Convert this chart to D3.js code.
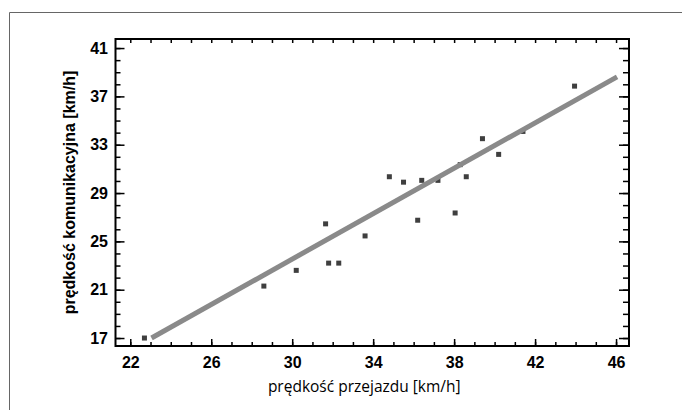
<!DOCTYPE html>
<html>
<head>
<meta charset="utf-8">
<script src="https://cdn.jsdelivr.net/npm/d3@7"></script>
<style>
    body { margin: 0; background: #fff; }
    svg { display: block; }
</style>
</head>
<body>
<div id="chart"></div>
<script>
// data
const speedRide = [22.7, 28.6, 30.2, 31.65, 31.8, 32.3, 33.6, 34.8, 35.5, 36.2, 36.4, 37.2, 38.05, 38.3, 38.6, 39.4, 40.2, 41.4, 43.95];
const speedComm = [17.0, 21.3, 22.6, 26.45, 23.2, 23.2, 25.45, 30.35, 29.9, 26.75, 30.05, 30.05, 27.35, 31.35, 30.35, 33.5, 32.2, 34.1, 37.85];

// fitted line end points
const fitX = [23.05, 46.05];
const fitY = [17.0, 38.62];

const xMajor = [22, 26, 30, 34, 38, 42, 46];
const yMajor = [17, 21, 25, 29, 33, 37, 41];

const width = 682, height = 410;
const margin = { top: 39, right: 53, bottom: 64, left: 115.5 };

const svg = d3.select('#chart').append('svg')
    .attr('width', width)
    .attr('height', height);

// outer frame (only left and top edges visible)
svg.append('path')
    .attr('d', `M9.5,${height}V12.5H${width}`)
    .attr('fill', 'none')
    .attr('stroke', '#666')
    .attr('stroke-width', 1);

const scaleX = d3.scaleLinear([21.27, 46.64], [margin.left, width - margin.right]);
const scaleY = d3.scaleLinear([16.34, 41.75], [height - margin.bottom, margin.top]);

const xMinor = d3.range(22, 47);
const yMinor = d3.range(17, 42);

// axes, ticks pointing inward
function addAxis(gen, transform, values, size, labels) {
    const g = svg.append('g')
        .attr('transform', transform)
        .call(gen.tickValues(values).tickSize(size).tickSizeOuter(0)
            .tickFormat(labels ? d3.format('d') : ''));
    g.select('.domain').remove();
    g.selectAll('.tick line').attr('stroke', '#000').attr('stroke-width', 1.5);
    g.selectAll('.tick text')
        .style('font-family', '"Liberation Sans", Arial, sans-serif')
        .style('font-weight', 'bold')
        .style('font-size', '16px')
        .attr('fill', '#000');
    return g;
}

const x0 = scaleX.range()[0], x1 = scaleX.range()[1];
const y0 = scaleY.range()[0], y1 = scaleY.range()[1];

addAxis(d3.axisBottom(scaleX), `translate(0,${y0})`, xMinor, -4, false);
const gx = addAxis(d3.axisBottom(scaleX), `translate(0,${y0})`, xMajor, -7, true);
gx.selectAll('.tick text').attr('y', 11).attr('dy', '0.71em');

addAxis(d3.axisTop(scaleX), `translate(0,${y1})`, xMinor, -4, false);

addAxis(d3.axisLeft(scaleY), `translate(${x0},0)`, yMinor, -5, false);
const gy = addAxis(d3.axisLeft(scaleY), `translate(${x0},0)`, yMajor, -9, true);
gy.selectAll('.tick text').attr('x', -7.5);

addAxis(d3.axisRight(scaleY), `translate(${x1},0)`, yMinor, -6, false);
addAxis(d3.axisRight(scaleY), `translate(${x1},0)`, yMajor, -10, false);

// points (under the line)
svg.append('g').selectAll('rect')
    .data(speedRide.map((d, i) => [d, speedComm[i]]))
    .join('rect')
    .attr('x', d => scaleX(d[0]) - 2.5)
    .attr('y', d => scaleY(d[1]) - 2.5)
    .attr('width', 5)
    .attr('height', 5)
    .attr('fill', '#3f3f3f');

// fitted line
svg.append('path')
    .datum(fitX.map((d, i) => [d, fitY[i]]))
    .attr('d', d3.line(d => scaleX(d[0]), d => scaleY(d[1])))
    .attr('fill', 'none')
    .attr('stroke', '#8a8a8a')
    .attr('stroke-width', 5);

// plot frame
svg.append('rect')
    .attr('x', x0).attr('y', y1)
    .attr('width', x1 - x0).attr('height', y0 - y1)
    .attr('fill', 'none')
    .attr('stroke', '#000')
    .attr('stroke-width', 2);

// axis labels
svg.append('text')
    .attr('transform', `translate(${(x0 + x1) / 2 - 8},388)`)
    .attr('text-anchor', 'middle')
    .attr('dominant-baseline', 'middle')
    .style('font-family', '"Open Sans", "Noto Sans", sans-serif')
    .style('font-size', '15.5px')
    .text('prędkość przejazdu [km/h]');

svg.append('text')
    .attr('transform', `translate(71,${(y0 + y1) / 2}) rotate(-90)`)
    .attr('text-anchor', 'middle')
    .attr('dominant-baseline', 'middle')
    .style('font-family', '"Liberation Sans", Arial, sans-serif')
    .style('font-weight', 'bold')
    .style('font-size', '16px')
    .text('prędkość komunikacyjna [km/h]');
</script>
</body>
</html>
